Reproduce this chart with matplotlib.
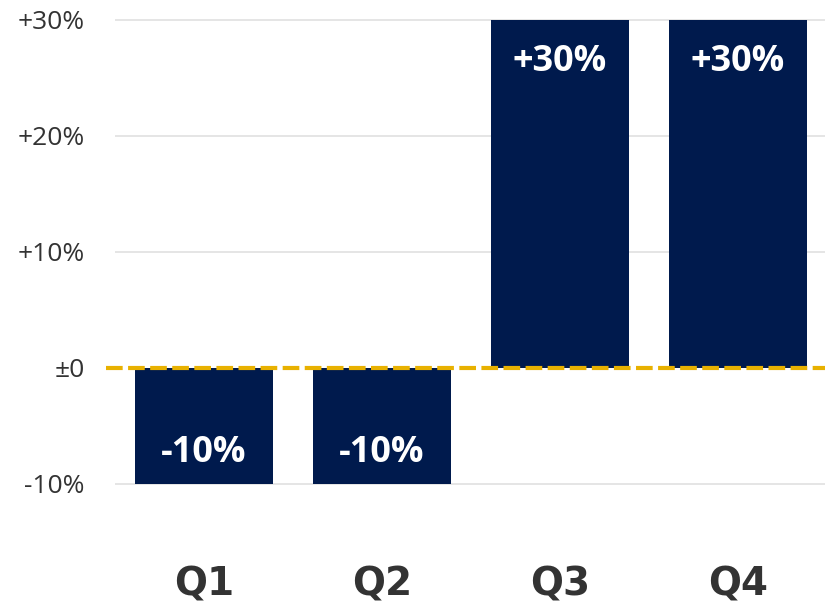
import matplotlib
matplotlib.use("Agg")
import matplotlib.pyplot as plt

quarters = ["Q1", "Q2", "Q3", "Q4"]
growth = [-10, -10, 30, 30]
tick_vals = [-10, 0, 10, 20, 30]
tick_labels = ["-10%", "±0", "+10%", "+20%", "+30%"]
bar_labels = ["-10%", "-10%", "+30%", "+30%"]

navy = "#001A4D"
gold = "#E8B100"

fig = plt.figure(figsize=(8.25, 6.11), dpi=100)
ax = fig.add_axes([0.1394, 0.1699, 0.863, 0.8164])

x = list(range(len(quarters)))
ax.bar(x, growth, width=0.77, color=navy, zorder=2)

for xi, v, lab in zip(x, growth, bar_labels):
    off = -30 if v >= 0 else 22
    ax.annotate(lab, (xi, v), xytext=(0, off), textcoords="offset points",
                ha="center", va="center", color="white", fontsize=26,
                fontweight="bold", family="Open Sans", zorder=3)

ax.set_xlim(-0.5, 3.5)
ax.set_ylim(-12, 31)
ax.set_yticks(tick_vals)
ax.set_yticklabels(tick_labels, fontsize=19, color="#333333", family="Open Sans")
ax.set_xticks(x)
ax.set_xticklabels(quarters, fontsize=28, fontweight="bold", color="#333333")
ax.tick_params(axis="y", length=0, pad=22)
ax.tick_params(axis="x", length=0, pad=42)

for v in tick_vals:
    if v != 0:
        ax.axhline(v, color="#E3E3E3", lw=1.3, zorder=1)
ax.axhline(0, xmin=-0.012, xmax=1, color=gold, lw=3, ls=(0, (4, 1.3)),
           zorder=4, clip_on=False)

for s in ax.spines.values():
    s.set_visible(False)

fig.savefig("out.png", dpi=100)
